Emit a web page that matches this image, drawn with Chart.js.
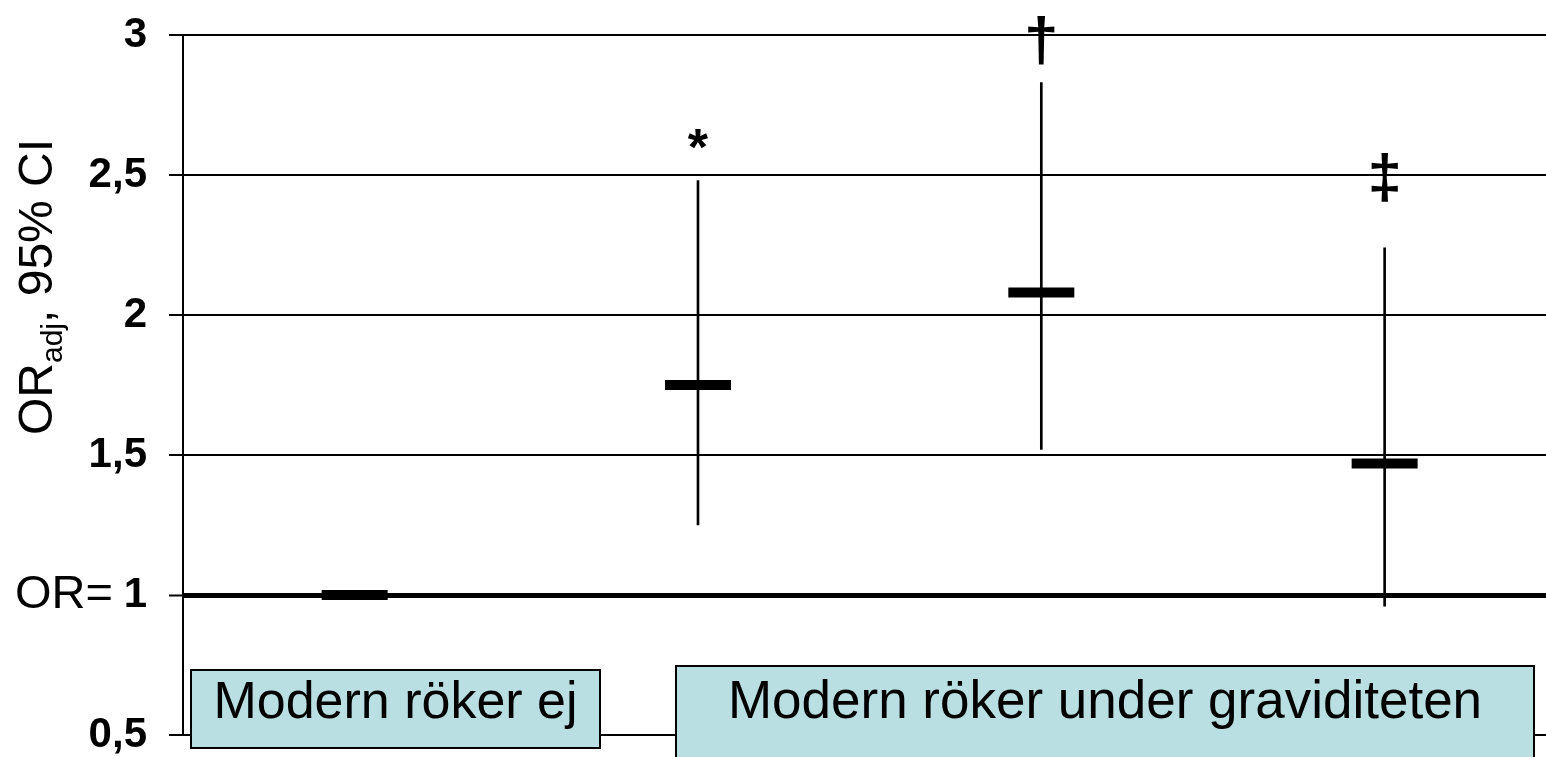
<!DOCTYPE html>
<html>
<head>
<meta charset="utf-8">
<script src="https://cdn.jsdelivr.net/npm/chart.js@4.4.1/dist/chart.umd.min.js"></script>
<style>
    html, body { margin: 0; padding: 0; background: #fff; overflow: hidden; }
    #wrap { position: relative; width: 1546px; height: 757px; }
</style>
</head>
<body>
<div id="wrap"><canvas id="orChart" width="1546" height="757"></canvas></div>
<script>
// ============================================
// Data
// ============================================
const xPos = [1, 2, 3, 4];
const orAdj = [1.00, 1.75, 2.08, 1.47];
const ciLow = [null, 1.25, 1.52, 0.96];
const ciHigh = [null, 2.48, 2.83, 2.24];
const sigMarks = ['', '*', '†', '‡'];
const sigY = [null, 2.63, 2.98, 2.49];
const yTicks = [0.5, 1, 1.5, 2, 2.5, 3];
const yTickLabels = ['0,5', '1', '1,5', '2', '2,5', '3'];
const refOR = 1;
const groupLabels = ['Modern röker ej', 'Modern röker under graviditeten'];

const FONT = '"Liberation Sans", Arial, sans-serif';

// group boxes (pixel overlay, like the slide's text boxes)
const groupBoxes = [
    { x1: 191, y1: 670, x2: 600, y2: 748, size: 52 },
    { x1: 676, y1: 666, x2: 1534, y2: 762, size: 53 }
];

const annotate = {
    id: 'annotate',
    afterDraw(chart) {
        const { ctx, scales: { x, y } } = chart;
        ctx.save();
        ctx.fillStyle = '#000';

        // significance marks
        ctx.textAlign = 'center';
        ctx.textBaseline = 'alphabetic';
        sigMarks.forEach((m, i) => {
            if (!m) return;
            ctx.font = (m === '*' ? 'bold 52px ' : 'bold 62px ') + FONT;
            const mt = ctx.measureText(m);
            const cy = y.getPixelForValue(sigY[i]);
            ctx.fillText(m, x.getPixelForValue(xPos[i]),
                cy + (mt.actualBoundingBoxAscent - mt.actualBoundingBoxDescent) / 2);
        });

        // group boxes
        groupBoxes.forEach((b, i) => {
            ctx.fillStyle = '#b9dfe2';
            ctx.fillRect(b.x1, b.y1, b.x2 - b.x1, b.y2 - b.y1);
            ctx.strokeStyle = '#000';
            ctx.lineWidth = 2;
            ctx.strokeRect(b.x1, b.y1, b.x2 - b.x1, b.y2 - b.y1);
            ctx.fillStyle = '#000';
            ctx.font = b.size + 'px ' + FONT;
            ctx.textAlign = 'center';
            ctx.fillText(groupLabels[i], (b.x1 + b.x2) / 2, 718);
        });

        // "OR=" in front of the 1 tick
        ctx.font = '47px ' + FONT;
        ctx.textAlign = 'right';
        ctx.fillText('OR=', 113, y.getPixelForValue(refOR) + 13);

        // y title with subscript
        ctx.translate(52, 435);
        ctx.rotate(-Math.PI / 2);
        ctx.textAlign = 'left';
        ctx.font = '48px ' + FONT;
        ctx.fillText('OR', 0, 0);
        let w = ctx.measureText('OR').width;
        ctx.font = '30px ' + FONT;
        ctx.fillText('adj', w, 10);
        w += ctx.measureText('adj').width;
        ctx.font = '48px ' + FONT;
        ctx.fillText(', 95% CI', w, 0);
        ctx.restore();
    }
};

const ciData = xPos
    .map((xv, i) => (ciLow[i] == null ? null : { x: xv, y: [ciLow[i], ciHigh[i]] }))
    .filter(d => d);

new Chart(document.getElementById('orChart'), {
    type: 'scatter',
    data: {
        datasets: [
            {
                type: 'bar',
                data: ciData,
                backgroundColor: '#000',
                borderWidth: 0,
                barThickness: 2,
                grouped: false
            },
            {
                type: 'scatter',
                data: xPos.map((xv, i) => ({ x: xv, y: orAdj[i] })),
                pointStyle: 'line',
                pointRadius: 33,
                borderWidth: 10,
                borderColor: '#000',
                backgroundColor: '#000'
            }
        ]
    },
    options: {
        responsive: false,
        animation: false,
        events: [],
        layout: { autoPadding: false, padding: { left: 0, top: 35, right: 0, bottom: 22 } },
        plugins: {
            legend: { display: false },
            tooltip: { enabled: false }
        },
        scales: {
            x: { type: 'linear', min: 0.5, max: 4.47, offset: false, display: false },
            y: {
                min: 0.5,
                max: 3,
                afterBuildTicks: s => { s.ticks = yTicks.map(v => ({ value: v })); },
                afterFit: s => {
                    s.width = 183;
                    s.paddingTop = 0;
                    s.paddingBottom = 0;
                },
                border: { display: true, color: '#000', width: 2 },
                grid: {
                    color: '#000',
                    lineWidth: c => (c.tick && c.tick.value === refOR ? 5 : 2),
                    tickLength: 14,
                    tickWidth: 2,
                    tickColor: '#000'
                },
                ticks: {
                    color: '#000',
                    padding: 22,
                    font: { family: FONT, size: 42, weight: 'bold', lineHeight: 1 },
                    callback: v => yTickLabels[yTicks.indexOf(v)]
                }
            }
        }
    },
    plugins: [annotate]
});
</script>
</body>
</html>
